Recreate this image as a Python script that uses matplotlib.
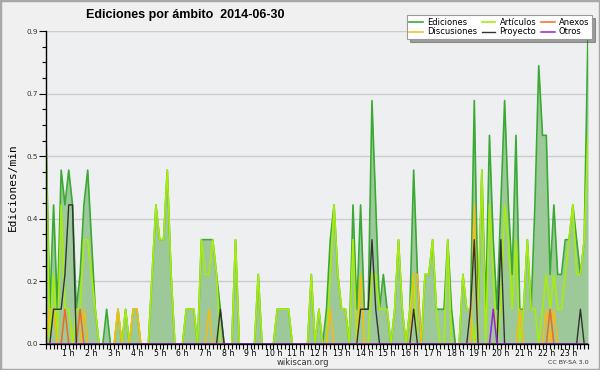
import matplotlib
matplotlib.use("Agg")
import matplotlib.pyplot as plt
import numpy as np
from matplotlib.patches import Rectangle
from matplotlib.ticker import MultipleLocator

# edits/min, one value per 10 minutes (6 per row = 1 hour)
ediciones = [
    0.6, 0.1, 0.4, 0.1, 0.5, 0.4,
    0.5, 0.4, 0.1, 0.2, 0.4, 0.5,
    0.3, 0.1, 0.0, 0.0, 0.1, 0.0,
    0.0, 0.1, 0.0, 0.1, 0.0, 0.1,
    0.1, 0.0, 0.0, 0.0, 0.2, 0.4,
    0.3, 0.3, 0.5, 0.2, 0.0, 0.0,
    0.0, 0.1, 0.1, 0.1, 0.0, 0.3,
    0.3, 0.3, 0.3, 0.2, 0.1, 0.0,
    0.0, 0.0, 0.3, 0.0, 0.0, 0.0,
    0.0, 0.0, 0.2, 0.0, 0.0, 0.0,
    0.0, 0.1, 0.1, 0.1, 0.1, 0.0,
    0.0, 0.0, 0.0, 0.0, 0.2, 0.0,
    0.1, 0.0, 0.1, 0.3, 0.4, 0.2,
    0.1, 0.1, 0.0, 0.4, 0.1, 0.4,
    0.1, 0.1, 0.7, 0.4, 0.1, 0.2,
    0.1, 0.0, 0.1, 0.3, 0.1, 0.0,
    0.1, 0.5, 0.2, 0.0, 0.2, 0.2,
    0.3, 0.1, 0.1, 0.1, 0.3, 0.1,
    0.0, 0.0, 0.2, 0.1, 0.1, 0.7,
    0.1, 0.5, 0.1, 0.6, 0.3, 0.1,
    0.4, 0.7, 0.4, 0.2, 0.6, 0.1,
    0.1, 0.3, 0.1, 0.4, 0.8, 0.6,
    0.6, 0.2, 0.4, 0.2, 0.2, 0.3,
    0.3, 0.4, 0.3, 0.2, 0.3, 0.9,
]
articulos = [
    0.6, 0.0, 0.2, 0.0, 0.4, 0.1,
    0.1, 0.0, 0.1, 0.1, 0.3, 0.3,
    0.2, 0.1, 0.0, 0.0, 0.0, 0.0,
    0.0, 0.1, 0.0, 0.1, 0.0, 0.1,
    0.1, 0.0, 0.0, 0.0, 0.2, 0.4,
    0.3, 0.3, 0.5, 0.2, 0.0, 0.0,
    0.0, 0.1, 0.1, 0.1, 0.0, 0.3,
    0.2, 0.2, 0.3, 0.2, 0.0, 0.0,
    0.0, 0.0, 0.3, 0.0, 0.0, 0.0,
    0.0, 0.0, 0.2, 0.0, 0.0, 0.0,
    0.0, 0.1, 0.1, 0.1, 0.1, 0.0,
    0.0, 0.0, 0.0, 0.0, 0.2, 0.0,
    0.1, 0.0, 0.0, 0.2, 0.4, 0.2,
    0.1, 0.1, 0.0, 0.3, 0.0, 0.2,
    0.0, 0.0, 0.2, 0.2, 0.1, 0.1,
    0.1, 0.0, 0.1, 0.3, 0.1, 0.0,
    0.1, 0.2, 0.0, 0.0, 0.2, 0.2,
    0.3, 0.1, 0.0, 0.0, 0.3, 0.0,
    0.0, 0.0, 0.2, 0.1, 0.1, 0.0,
    0.1, 0.5, 0.0, 0.4, 0.2, 0.0,
    0.1, 0.4, 0.3, 0.1, 0.3, 0.0,
    0.1, 0.3, 0.1, 0.1, 0.0, 0.1,
    0.2, 0.1, 0.2, 0.1, 0.1, 0.2,
    0.3, 0.4, 0.2, 0.2, 0.3, 0.6,
]
discusiones = [0.0] * 144
for i, v in [(1, 0.1), (2, 0.1), (10, 0.1), (19, 0.1), (23, 0.1), (24, 0.1),
             (43, 0.1), (75, 0.1), (83, 0.2), (97, 0.2), (98, 0.2),
             (113, 0.4), (125, 0.1), (132, 0.1), (134, 0.1)]:
    discusiones[i] = v
anexos = [0.0] * 144
for i, v in [(5, 0.1), (9, 0.1), (133, 0.1)]:
    anexos[i] = v
proyecto = [0.0] * 144
for i, v in [(2, 0.1), (3, 0.1), (4, 0.1), (5, 0.2), (6, 0.4), (7, 0.4),
             (46, 0.1), (83, 0.1), (84, 0.1), (85, 0.1), (86, 0.3), (87, 0.1),
             (97, 0.1), (112, 0.1), (113, 0.3), (120, 0.3), (141, 0.1)]:
    proyecto[i] = v
otros = [0.0] * 144
otros[118] = 0.1

hour_labels = ["%d h" % h for h in range(1, 24)]
ytick_vals = [0.0, 0.18, 0.36, 0.54, 0.72, 0.9]
ytick_labels = ["0.0", "0.2", "0.4", "0.5", "0.7", "0.9"]

x = np.arange(len(ediciones))

fig = plt.figure(figsize=(6, 3.7), dpi=100, facecolor="#f0f0f0")
fig.patches.append(Rectangle((0, 0), 1, 1, transform=fig.transFigure,
                             fill=False, edgecolor="#a8a8a8", lw=2.5))
ax = fig.add_axes([46 / 600, 1 - 344 / 370, 542 / 600, 313 / 370])
ax.set_facecolor("#eeeff1")

ax.fill_between(x, ediciones, color="#9dc99a", lw=0)
ax.plot(x, ediciones, color="#3aaa35", lw=1.2, label="Ediciones")
ax.plot(x, articulos, color="#a8ec0c", lw=1.2, label="Artículos")
ax.plot(x, discusiones, color="#f7bb12", lw=1.1, label="Discusiones")
ax.plot(x, anexos, color="#f26a1e", lw=1.1, label="Anexos")
ax.plot(x, proyecto, color="#333333", lw=1.0, label="Proyecto")
ax.plot(x, otros, color="#9a1ee0", lw=1.1, label="Otros")

ax.set_xlim(0, 143)
ax.set_ylim(0, 0.9)
ax.set_yticks(ytick_vals)
ax.set_yticklabels(ytick_labels, fontsize=5.2, color="#333333")
ax.yaxis.set_minor_locator(MultipleLocator(0.045))
ax.set_xticks(np.arange(6, 144, 6))
ax.set_xticklabels(hour_labels, fontsize=5.6)
ax.set_xticks(np.arange(0, 144), minor=True)
ax.tick_params(axis="x", which="both", length=3.5, width=0.8, pad=0.3)
ax.tick_params(axis="y", which="major", length=5, width=0.8, pad=1)
ax.tick_params(axis="y", which="minor", length=3, width=0.8)
ax.grid(axis="y", which="major", color="#cccccc", lw=1)
ax.set_axisbelow(True)
for s in ["top", "right"]:
    ax.spines[s].set_visible(False)
ax.spines["left"].set_linewidth(1)
ax.spines["bottom"].set_linewidth(1)

ax.set_ylabel("Ediciones/min", fontsize=8, family="DejaVu Sans Mono", labelpad=6)
fig.text(185 / 600, 1 - 15 / 370, "Ediciones por ámbito  2014-06-30",
         ha="center", va="center", fontsize=9, fontweight="bold",
         family="Liberation Sans")
fig.text(303 / 600, 1 - 362.5 / 370, "wikiscan.org", ha="center", va="center",
         fontsize=6.0, color="#333333")
fig.text(589 / 600, 1 - 362.5 / 370, "CC BY-SA 3.0", ha="right", va="center",
         fontsize=4.6, color="#333333")

h, l = ax.get_legend_handles_labels()
order = [0, 2, 1, 4, 3, 5]
leg = fig.legend([h[i] for i in order], [l[i] for i in order], ncol=3,
                 loc="upper right", bbox_to_anchor=(596 / 600, 1 - 11 / 370),
                 fontsize=6, frameon=True, fancybox=False, shadow=True,
                 framealpha=1, edgecolor="#999999", handlelength=1.6,
                 handletextpad=0.5, columnspacing=0.6, labelspacing=0.1,
                 borderpad=0.3)
leg.get_frame().set_linewidth(0.8)

fig.savefig("out.png", dpi=100, facecolor=fig.get_facecolor())
